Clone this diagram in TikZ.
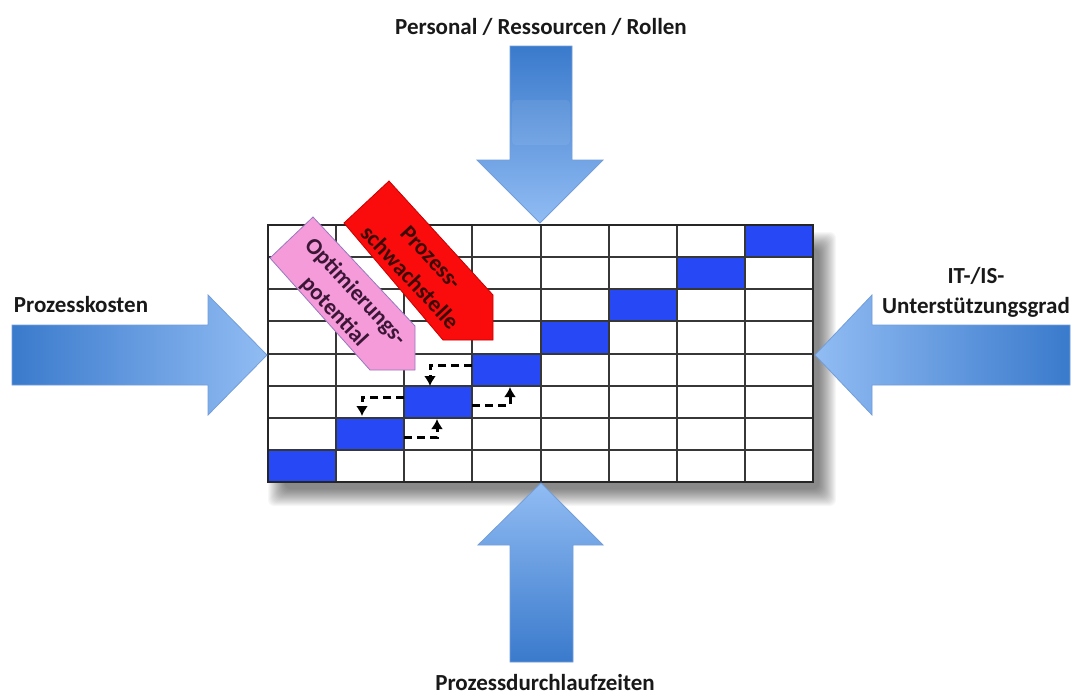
\documentclass[tikz,border=0pt]{standalone}
\usepackage{fontspec}
\setmainfont{Carlito}
\usetikzlibrary{arrows.meta}

\definecolor{arrdark}{RGB}{58,122,204}
\definecolor{arrlight}{RGB}{145,188,243}
\definecolor{arredge}{RGB}{115,158,218}
\definecolor{cellblue}{RGB}{38,72,245}
\definecolor{gridline}{RGB}{55,55,55}
\definecolor{pinkfill}{RGB}{245,155,218}
\definecolor{pinkedge}{RGB}{150,120,190}
\definecolor{redfill}{RGB}{250,12,12}
\definecolor{rededge}{RGB}{200,0,0}
\definecolor{pinktext}{RGB}{60,22,55}
\definecolor{redtext}{RGB}{60,8,8}
\definecolor{labeltext}{RGB}{25,25,25}

\tikzset{
  bigarrow/.style={draw=arredge, line width=0.8pt, line join=miter},
  lbl/.style={text=labeltext, font=\fontsize{23}{30}\selectfont\bfseries, inner sep=0pt},
  tag/.style={rotate=-47, align=center, inner sep=0pt, font=\fontsize{23}{29}\selectfont\bfseries},
  cell/.style={fill=cellblue, minimum width=68.125pt, minimum height=32.125pt, inner sep=0pt, outer sep=0pt},
  flow/.style={draw=black, line width=3pt, dash pattern=on 8pt off 5pt,
               -{Latex[length=10pt,width=12pt]}},
}

\begin{document}
\begin{tikzpicture}[x=1pt,y=-1pt]
\useasboundingbox (0,0) rectangle (1073,696);
\fill[white] (0,0) rectangle (1073,696);

% soft shadow under the process matrix
\foreach \k in {0,...,17}
  \fill[black,opacity=0.03, rounded corners=6pt] (268+\k,232+\k) rectangle (836-\k,506-\k);

% process matrix: 8 columns x 8 rows
\fill[white] (268,225) rectangle (813,482);
\foreach \i in {0,...,7}
  \node[cell] (c\i) at ({268+68.125*(\i+0.5)},{482-32.125*(\i+0.5)}) {};
\foreach \i in {1,...,7} {
  \draw[gridline, line width=2pt] ({268+68.125*\i},225) -- ({268+68.125*\i},482);
  \draw[gridline, line width=2pt] (268,{225+32.125*\i}) -- (813,{225+32.125*\i});
}
\draw[black!85, line width=2.2pt] (268,225) rectangle (813,482);

% input arrows from the four sides
\draw[bigarrow, left color=arrdark, right color=arrlight]
  (12,325) -- (208,325) -- (208,295) -- (267,355) -- (208,415) -- (208,385) -- (12,385) -- cycle;
\draw[bigarrow, left color=arrlight, right color=arrdark]
  (1070,325) -- (872,325) -- (872,295) -- (815,355) -- (872,415) -- (872,385) -- (1070,385) -- cycle;
\draw[bigarrow, top color=arrdark, bottom color=arrlight]
  (510,46) -- (572,46) -- (572,160) -- (603,160) -- (540,223) -- (477,160) -- (510,160) -- cycle;
\fill[white, opacity=0.07, rounded corners=4pt] (512,100) rectangle (570,145);
\draw[bigarrow, top color=arrlight, bottom color=arrdark]
  (510,662) -- (573,662) -- (573,545) -- (603,545) -- (541,483) -- (478,545) -- (510,545) -- cycle;

% labels of the input arrows
\node[lbl] (ressourcen) at (541,27) {Personal / Ressourcen / Rollen};
\node[lbl] (laufzeit) at (545,683) {Prozessdurchlaufzeiten};
\node[lbl] (kosten) at (81,305) {Prozesskosten};
\node[lbl, align=center] (itgrad) at (976,292) {IT-/IS-\\Unterstützungsgrad};

% diagonal tags
\draw[fill=redfill, draw=rededge, line width=0.8pt]
  (344,223) -- (389,181) -- (493,295) -- (493,340) -- (443,340) -- cycle;
\node[tag, text=redtext] (schwach) at (420.5,267.5) {Prozess-\\schwachstelle};

\draw[fill=pinkfill, draw=pinkedge, line width=0.8pt]
  (270,258) -- (313,217) -- (415,326) -- (415,370) -- (370,370) -- cycle;
\node[tag, text=pinktext] (optim) at (344.5,302) {Optimierungs-\\potential};

% step-back and step-forward flows between process steps
\coordinate (e1) at (430,386);
\coordinate (e2) at (362,416);
\coordinate (e3) at (437,419);
\coordinate (e4) at (510,387);
\draw[flow] ([yshift=4pt]c3.west) -| (e1);
\draw[flow] ([yshift=4pt]c2.west) -| (e2);
\draw[flow] ([yshift=-4pt]c1.east) -| (e3);
\draw[flow] ([yshift=-4pt]c2.east) -| (e4);
\end{tikzpicture}
\end{document}
